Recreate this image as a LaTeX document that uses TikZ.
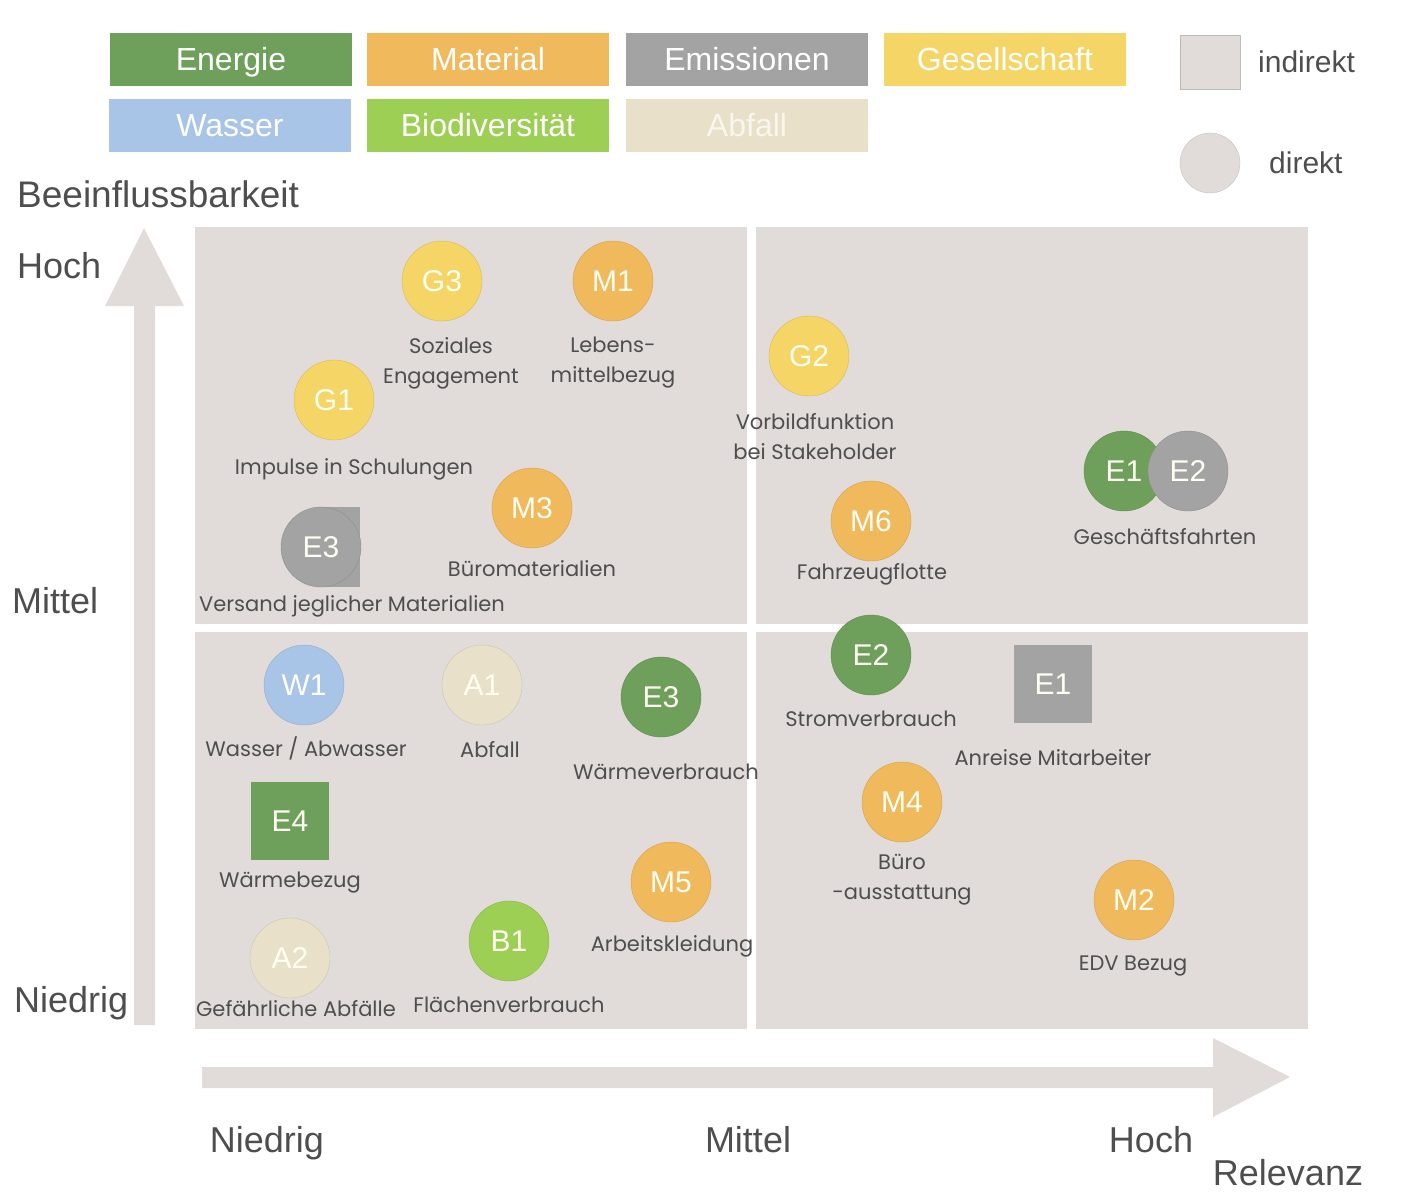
\documentclass[tikz,border=0pt]{standalone}
\usepackage{fontspec}
\setmainfont{Liberation Sans}
\newfontfamily\capfont{Poppins}
\definecolor{cEn}{HTML}{6E9F5B}
\definecolor{cMa}{HTML}{EFB95C}
\definecolor{cEm}{HTML}{A3A3A3}
\definecolor{cGe}{HTML}{F5D565}
\definecolor{cWa}{HTML}{A8C4E6}
\definecolor{cBi}{HTML}{9DCF55}
\definecolor{cAb}{HTML}{E8E0C8}
\definecolor{cPa}{HTML}{E1DCDA}
\definecolor{txt}{HTML}{4E4E4E}
\begin{document}
\begin{tikzpicture}[x=1pt,y=-1pt,
  legbox/.style={text height=22.9pt, text depth=0pt, minimum width=242pt, minimum height=53pt, inner sep=0pt, text=white, font=\fontsize{32}{36}\selectfont},
  panel/.style={fill=cPa, minimum width=552pt, minimum height=397pt, inner sep=0pt},
  bub/.style={text height=21.5pt, text depth=0pt, circle, minimum size=80pt, inner sep=0pt, text=white!95!yellow, font=\fontsize{30}{34}\selectfont, draw=#1!88!black, line width=0.4pt, fill=#1},
  sq/.style={text height=21.5pt, text depth=0pt, rectangle, minimum size=78pt, inner sep=0pt, text=white!95!yellow, font=\fontsize{30}{34}\selectfont, fill=#1},
  capt/.style={font=\capfont\fontsize{21}{30}\selectfont, text=txt, align=center, inner sep=0pt},
  axl/.style={text height=25.8pt, text depth=0pt, font=\fontsize{36}{40}\selectfont, text=txt, inner sep=0pt},
  leg/.style={text height=21.5pt, text depth=0pt, font=\fontsize{30}{34}\selectfont, text=txt, inner sep=0pt},
  arr/.style={fill=cPa}
]
\useasboundingbox (0,0) rectangle (1404,1200);
% legend
\node[legbox, fill=cEn] (lEn) at (231,59.5) {Energie};
\node[legbox, fill=cMa] (lMa) at (488,59.5) {Material};
\node[legbox, fill=cEm] (lEm) at (747,59.5) {Emissionen};
\node[legbox, fill=cGe] (lGe) at (1005,59.5) {Gesellschaft};
\node[legbox, fill=cWa] (lWa) at (230,125) {Wasser};
\node[legbox, fill=cBi] (lBi) at (488,125) {Biodiversität};
\node[legbox, fill=cAb, text=white!70!cAb] (lAb) at (747,125) {Abfall};
\node[fill=cPa, draw=cPa!85!black, line width=0.3pt, minimum width=60pt, minimum height=54pt, inner sep=0pt] (lInd) at (1210,62) {};
\node[leg, anchor=west] (tInd) at (1258,62) {indirekt};
\node[circle, fill=cPa, draw=cPa!85!black, line width=0.3pt, minimum size=60pt, inner sep=0pt] (lDir) at (1210,163) {};
\node[leg, anchor=west] (tDir) at (1269,163) {direkt};
% axis titles
\node[axl, anchor=west, text height=26.5pt, font=\fontsize{37}{40}\selectfont] (yT) at (17,194) {Beeinflussbarkeit};
\node[axl, anchor=west] (yH) at (17,266) {Hoch};
\node[axl, anchor=west] (yM) at (12,601) {Mittel};
\node[axl, anchor=west] (yN) at (14,1000) {Niedrig};
\node[axl] (xN) at (267,1140) {Niedrig};
\node[axl] (xM) at (748,1140) {Mittel};
\node[axl] (xH) at (1151,1140) {Hoch};
\node[axl] (xT) at (1288,1173) {Relevanz};
% arrows
\fill[arr] (134,1025) -- (134,306) -- (105,306) -- (144,228) -- (184,306) -- (155,306) -- (155,1025) -- cycle;
\fill[arr] (202,1067) -- (1213,1067) -- (1213,1038) -- (1290,1077) -- (1213,1117) -- (1213,1088) -- (202,1088) -- cycle;
% panels
\node[panel] (pTL) at (471,425.5) {};
\node[panel] (pTR) at (1032,425.5) {};
\node[panel] (pBL) at (471,830) {};
\node[panel] (pBR) at (1032,830) {};
% top left
\node[bub=cGe] (G3) at (442,281) {G3};
\node[capt] (cG3) at (451,363) {Soziales\\Engagement};
\node[bub=cMa] (M1) at (613,281) {M1};
\node[capt] (cM1) at (613,363) {Lebens-\\mittelbezug};
\node[bub=cGe] (G1) at (334,400) {G1};
\node[capt] (cG1) at (354,469) {Impulse in Schulungen};
\node[bub=cMa] (M3) at (532,508) {M3};
\node[capt] (cM3) at (532,569) {Büromaterialien};
\fill[cEm] (321,507) rectangle (360,587);
\node[bub=cEm] (E3a) at (321,547) {E3};
\node[capt] (cE3a) at (352,606) {Versand jeglicher Materialien};
% top right
\node[bub=cGe] (G2) at (809,356) {G2};
\node[capt] (cG2) at (815,437) {Vorbildfunktion\\bei Stakeholder};
\node[bub=cMa] (M6) at (871,521) {M6};
\node[capt] (cM6) at (872,574) {Fahrzeugflotte};
\node[bub=cEn] (E1a) at (1124,471) {E1};
\node[bub=cEm] (E2a) at (1188,471) {E2};
\node[capt] (cE12) at (1165,537) {Geschäftsfahrten};
% bottom left
\node[bub=cWa] (W1) at (304,685) {W1};
\node[capt] (cW1) at (306,748) {Wasser / Abwasser};
\node[bub=cAb] (A1) at (482,685) {A1};
\node[capt] (cA1) at (490,750) {Abfall};
\node[bub=cEn] (E3b) at (661,697) {E3};
\node[capt] (cE3b) at (666,772) {Wärmeverbrauch};
\node[sq=cEn] (E4) at (290,821) {E4};
\node[capt] (cE4) at (290,883) {Wärmebezug};
\node[bub=cAb] (A2) at (290,958) {A2};
\node[capt] (cA2) at (296,1009) {Gefährliche Abfälle};
\node[bub=cBi] (B1) at (509,941) {B1};
\node[capt] (cB1) at (509,1005) {Flächenverbrauch};
\node[bub=cMa] (M5) at (671,882) {M5};
\node[capt] (cM5) at (672,946) {Arbeitskleidung};
% bottom right
\node[bub=cEn] (E2b) at (871,655) {E2};
\node[capt] (cE2b) at (871,719) {Stromverbrauch};
\node[sq=cEm] (E1b) at (1053,684) {E1};
\node[capt] (cE1b) at (1053,758) {Anreise Mitarbeiter};
\node[bub=cMa] (M4) at (902,802) {M4};
\node[capt] (cM4) at (902,880) {Büro\\-ausstattung};
\node[bub=cMa] (M2) at (1134,900) {M2};
\node[capt] (cM2) at (1133,966) {EDV Bezug};
\end{tikzpicture}
\end{document}
